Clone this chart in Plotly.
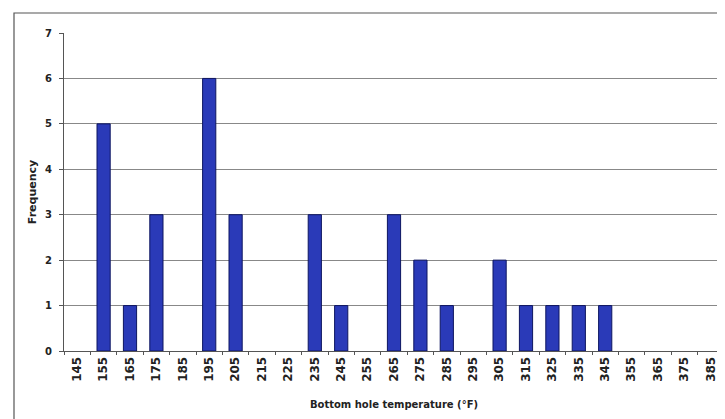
import plotly.graph_objects as go

categories = [str(v) for v in range(145, 395, 10)]
frequency = [0, 5, 1, 3, 0, 6, 3, 0, 0, 3, 1, 0, 3, 2, 1, 0, 2, 1, 1, 1, 1, 0, 0, 0, 0]
y_ticks = [0, 1, 2, 3, 4, 5, 6, 7]

fig = go.Figure(go.Bar(
    x=categories, y=frequency,
    width=0.5,
    marker=dict(color="#2a3ab8",
                line=dict(color="#0d1560", width=[1 if v > 0 else 0 for v in frequency])),
))

OFF = 8  # page body margin
W, H = 725 - OFF, 419 - OFF
# plot area in window pixels
PL, PR, PT, PB = 64, 724, 33, 351
L, R, T, B = PL - OFF, 725 - PR, PT - OFF, 419 - PB
pw, ph = PR - PL, PB - PT

def px(x):
    return (x - PL) / pw

def py(y):
    return (PB - y) / ph

fig.add_shape(type="rect", xref="paper", yref="paper",
              x0=px(14), x1=px(720), y0=py(440), y1=py(13),
              line=dict(color="#555", width=1.2), fillcolor="rgba(0,0,0,0)", layer="below")

FAM = "DejaVu Sans, Liberation Sans, sans-serif"

fig.update_layout(
    width=W, height=H,
    margin=dict(l=L, r=R, t=T, b=B, autoexpand=False),
    paper_bgcolor="white", plot_bgcolor="white",
    showlegend=False,
    font=dict(family=FAM, color="#222", size=10),
    xaxis=dict(
        type="category", range=[-0.5, 24.5], automargin=False,
        tickangle=-90, tickfont=dict(size=12, weight="bold", family=FAM),
        ticks="outside", tickson="boundaries", ticklen=3, tickcolor="#555",
        showline=True, linecolor="#555", linewidth=1,
        showgrid=False,
        title=dict(text="Bottom hole temperature (°F)",
                   font=dict(size=10, weight="bold", family=FAM), standoff=20),
    ),
    yaxis=dict(
        range=[0, 7], tickvals=y_ticks, automargin=False,
        tickfont=dict(size=10, weight="bold", family=FAM),
        ticks="outside", ticklen=4, tickcolor="#555", ticklabelstandoff=5,
        showline=True, linecolor="#555", linewidth=1,
        showgrid=True, gridcolor="#888", gridwidth=1,
        zeroline=False,
        title=dict(text="Frequency", font=dict(size=11, weight="bold", family=FAM), standoff=6),
    ),
    bargap=0.5,
)

fig.write_html("out.html")
